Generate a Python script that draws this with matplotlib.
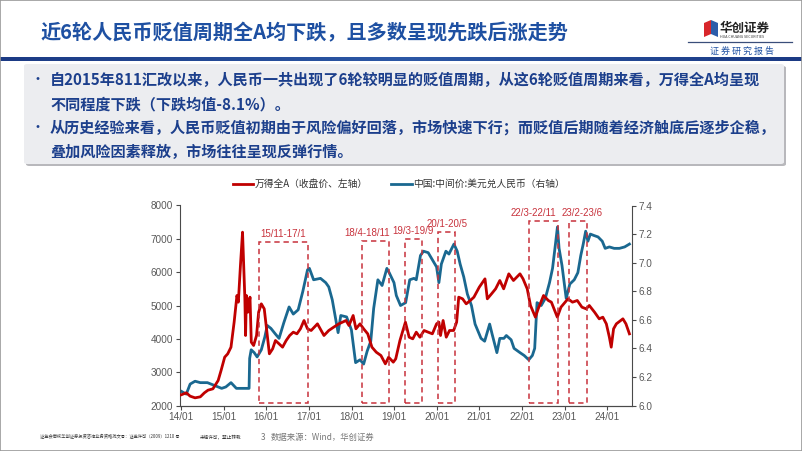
import numpy as np
import pandas as pd
import matplotlib
matplotlib.use("Agg")
import matplotlib.pyplot as plt
import matplotlib.dates as mdates
from matplotlib.patches import Rectangle, FancyBboxPatch, Polygon
from matplotlib.lines import Line2D

plt.rcParams["font.family"] = ["Noto Sans CJK SC", "DejaVu Sans"]

W, H = 802, 451

# ── data ───────────────────────────────────────────────────────────────────
WIND_DATES = [
    "2014-01-02", "2014-02-15", "2014-03-20", "2014-05-01", "2014-06-15", "2014-07-20",
    "2014-08-20", "2014-10-01", "2014-11-15", "2014-12-10", "2015-01-10", "2015-02-05",
    "2015-03-05", "2015-04-01", "2015-04-25", "2015-05-07", "2015-05-25", "2015-06-12",
    "2015-06-20", "2015-07-02", "2015-07-08", "2015-07-15", "2015-07-28", "2015-08-15",
    "2015-08-26", "2015-09-15", "2015-10-10", "2015-10-28", "2015-11-20", "2015-12-15",
    "2016-01-07", "2016-01-28", "2016-02-25", "2016-03-20", "2016-04-20", "2016-05-20",
    "2016-06-20", "2016-07-20", "2016-08-20", "2016-09-20", "2016-10-20", "2016-11-20",
    "2016-12-20", "2017-01-20", "2017-03-15", "2017-05-10", "2017-06-20", "2017-08-01",
    "2017-09-15", "2017-11-15", "2017-12-10", "2018-01-15", "2018-02-08", "2018-03-15",
    "2018-04-15", "2018-05-20", "2018-06-25", "2018-08-01", "2018-09-10", "2018-10-18",
    "2018-11-15", "2018-12-25", "2019-01-15", "2019-02-20", "2019-04-08", "2019-05-10",
    "2019-06-10", "2019-07-10", "2019-08-10", "2019-09-15", "2019-10-20", "2019-11-25",
    "2019-12-31", "2020-01-20", "2020-02-03", "2020-02-25", "2020-03-23", "2020-04-20",
    "2020-05-25", "2020-06-20", "2020-07-08", "2020-08-10", "2020-09-10", "2020-10-15",
    "2020-11-15", "2020-12-31", "2021-02-18", "2021-03-10", "2021-04-15", "2021-05-20",
    "2021-06-25", "2021-07-28", "2021-09-10", "2021-10-20", "2021-12-15", "2022-01-10",
    "2022-02-15", "2022-03-15", "2022-04-26", "2022-05-20", "2022-07-05", "2022-08-15",
    "2022-09-10", "2022-10-31", "2022-12-01", "2023-01-30", "2023-03-10", "2023-04-20",
    "2023-05-30", "2023-07-05", "2023-08-01", "2023-09-15", "2023-10-25", "2023-11-25",
    "2023-12-25", "2024-01-20", "2024-02-05", "2024-02-25", "2024-03-20", "2024-05-15",
    "2024-06-10", "2024-07-10",
]
WIND_VALUES = [
    2320, 2380, 2280, 2230, 2260, 2380,
    2460, 2500, 2750, 3050, 3450, 3550,
    3750, 4500, 5300, 5100, 6200, 7200,
    6400, 5200, 4100, 5300, 4800, 5250,
    3900, 3800, 4100, 4800, 5050, 4900,
    4200, 3550, 3700, 3950, 3850, 3750,
    3950, 4100, 4200, 4150, 4300, 4550,
    4300, 4250, 4450, 4100, 4250, 4350,
    4450, 4550, 4400, 4700, 4300, 4450,
    4300, 4150, 3750, 3600, 3500, 3250,
    3450, 3300, 3400, 3950, 4500, 4050,
    4000, 4200, 4050, 4250, 4200, 4150,
    4450, 4500, 4100, 4550, 4050, 4250,
    4250, 4500, 5250, 5200, 5050, 5150,
    5250, 5550, 5800, 5200, 5350, 5500,
    5750, 5500, 5950, 5750, 5950, 5800,
    5500, 5000, 4650, 4900, 5300, 5150,
    5100, 4650, 4950, 5200, 5100, 5150,
    4950, 4900, 5000, 4800, 4600, 4650,
    4450, 4050, 3750, 4300, 4450, 4600,
    4450, 4150,
]

FX_DATES = [
    "2014-01-02", "2014-02-15", "2014-03-20", "2014-05-01", "2014-06-15", "2014-08-15",
    "2014-10-15", "2014-12-15", "2015-01-20", "2015-03-05", "2015-04-20", "2015-06-20",
    "2015-08-07", "2015-08-12", "2015-08-25", "2015-09-20", "2015-10-15", "2015-11-20",
    "2015-12-20", "2016-01-10", "2016-02-10", "2016-03-20", "2016-04-20", "2016-05-31",
    "2016-07-15", "2016-08-20", "2016-10-01", "2016-11-10", "2016-12-20", "2017-01-05",
    "2017-02-10", "2017-04-10", "2017-05-25", "2017-06-20", "2017-07-20", "2017-09-08",
    "2017-10-01", "2017-11-20", "2017-12-31", "2018-02-05", "2018-03-15", "2018-04-15",
    "2018-05-15", "2018-06-15", "2018-07-10", "2018-08-15", "2018-09-20", "2018-10-31",
    "2018-11-20", "2018-12-31", "2019-01-20", "2019-02-25", "2019-04-10", "2019-05-15",
    "2019-06-20", "2019-07-10", "2019-08-15", "2019-09-10", "2019-10-20", "2019-11-25",
    "2019-12-31", "2020-01-20", "2020-02-10", "2020-03-20", "2020-04-15", "2020-05-28",
    "2020-06-25", "2020-07-20", "2020-08-20", "2020-09-20", "2020-10-25", "2020-11-25",
    "2021-01-15", "2021-02-15", "2021-03-30", "2021-04-20", "2021-05-31", "2021-06-25",
    "2021-07-30", "2021-08-20", "2021-09-30", "2021-10-25", "2021-12-15", "2022-01-20",
    "2022-02-28", "2022-03-31", "2022-04-20", "2022-05-10", "2022-06-15", "2022-07-20",
    "2022-08-25", "2022-09-20", "2022-10-15", "2022-11-01", "2022-11-15", "2022-12-10",
    "2023-01-15", "2023-02-15", "2023-03-25", "2023-04-25", "2023-05-20", "2023-06-10",
    "2023-07-01", "2023-07-20", "2023-08-10", "2023-09-10", "2023-10-15", "2023-11-20",
    "2023-12-15", "2024-01-20", "2024-03-01", "2024-04-15", "2024-05-30", "2024-07-10",
]
FX_VALUES = [
    6.10, 6.08, 6.15, 6.17, 6.16, 6.16,
    6.14, 6.12, 6.13, 6.16, 6.12, 6.12,
    6.12, 6.33, 6.39, 6.37, 6.34, 6.39,
    6.48, 6.56, 6.54, 6.50, 6.47, 6.58,
    6.69, 6.64, 6.67, 6.80, 6.95, 6.96,
    6.88, 6.89, 6.86, 6.83, 6.74, 6.51,
    6.63, 6.62, 6.53, 6.30, 6.32, 6.29,
    6.38, 6.45, 6.68, 6.88, 6.84, 6.96,
    6.93, 6.86, 6.77, 6.70, 6.72, 6.88,
    6.89, 6.88, 7.05, 7.08, 7.07, 7.02,
    6.97, 6.86, 6.99, 7.08, 7.06, 7.13,
    7.08, 6.99, 6.90, 6.78, 6.70, 6.57,
    6.47, 6.45, 6.57, 6.50, 6.37, 6.47,
    6.47, 6.49, 6.46, 6.40, 6.37, 6.35,
    6.32, 6.35, 6.40, 6.72, 6.70, 6.75,
    6.86, 6.96, 7.13, 7.25, 7.10, 6.98,
    6.75, 6.85, 6.88, 6.93, 7.05, 7.13,
    7.22, 7.15, 7.20, 7.19, 7.18, 7.15,
    7.10, 7.11, 7.10, 7.10, 7.11, 7.13,
]

PERIOD_LABELS = ["15/11-17/1", "18/4-18/11", "19/3-19/9", "20/1-20/5", "22/3-22/11", "23/2-23/6"]
PERIOD_START = ["2015-11-01", "2018-04-05", "2019-04-01", "2020-01-15", "2022-03-01", "2023-02-10"]
PERIOD_END = ["2016-12-20", "2018-11-20", "2019-08-25", "2020-06-05", "2022-11-05", "2023-07-10"]
PERIOD_TOP = [6900, 6950, 7000, 7200, 7550, 7550]
PERIOD_BOTTOM = 2080
LABEL_SHIFT_PX = [0, -9, 0, 0, -10, 4]

X_TICKS = [f"{y}-01-01" for y in range(2014, 2025)]
X_TICK_LABELS = [f"{y % 100:02d}/01" for y in range(2014, 2025)]
LEFT_TICKS = [2000, 3000, 4000, 5000, 6000, 7000, 8000]
RIGHT_TICKS = [6.0, 6.2, 6.4, 6.6, 6.8, 7.0, 7.2, 7.4]

TITLE = "近6轮人民币贬值周期全A均下跌，且多数呈现先跌后涨走势"
BULLETS = [
    ["自2015年811汇改以来，人民币一共出现了6轮较明显的贬值周期，从这6轮贬值周期来看，万得全A均呈现",
     "不同程度下跌（下跌均值-8.1%）。"],
    ["从历史经验来看，人民币贬值初期由于风险偏好回落，市场快速下行；而贬值后期随着经济触底后逐步企稳，",
     "叠加风险因素释放，市场往往呈现反弹行情。"],
]

RED = "#C00000"
BLUE = "#1A6890"
BOX_RED = "#C8323C"
NAVY = "#1C3F8C"


def fx(px):
    return px / W


def fy(py):
    return 1 - py / H


fig = plt.figure(figsize=(W / 100, H / 100), dpi=100)
fig.patch.set_facecolor("white")

# ── slide frame / header ──────────────────────────────────────────────────
fig.add_artist(Rectangle((0, 0), 1, 1, transform=fig.transFigure, fill=False,
                         ec="#9A9A9A", lw=1.2))
fig.text(fx(40), fy(33), TITLE, fontsize=14.5, fontweight="bold", color="#1E50A2",
         ha="left", va="center")

bar_ax = fig.add_axes([0, fy(61), 1, 4 / H])
grad = np.linspace(0, 1, 256).reshape(1, -1)
bar_ax.imshow(grad, aspect="auto",
              cmap=matplotlib.colors.LinearSegmentedColormap.from_list("hdr", ["#1B3A84", "#2C58A6", "#1B3A84"]))
bar_ax.axis("off")

# logo
fig.add_artist(Polygon([[fx(704), fy(23)], [fx(711), fy(20)], [fx(711), fy(34)], [fx(704), fy(37)]],
                       closed=True, transform=fig.transFigure, fc="#D8262B", ec="none"))
fig.add_artist(Polygon([[fx(711), fy(20)], [fx(718), fy(23)], [fx(718), fy(37)], [fx(711), fy(34)]],
                       closed=True, transform=fig.transFigure, fc="#2C5DAA", ec="none"))
fig.text(fx(720), fy(28), "华创证券", fontsize=9, fontweight="bold", color="#222222",
         ha="left", va="center")
fig.text(fx(720), fy(37), "HUA CHUANG SECURITIES", fontsize=2.6, color="#333333",
         ha="left", va="center")
fig.add_artist(Line2D([fx(688), fx(792)], [fy(42), fy(42)], transform=fig.transFigure,
                      color="#3A4E7A", lw=0.9))
fig.text(fx(742), fy(51), "证 券 研 究 报 告", fontsize=6.5, color="#1E50A2",
         ha="center", va="center")

# ── text box ──────────────────────────────────────────────────────────────
fig.add_artist(FancyBboxPatch((fx(26), fy(166)), fx(760), (166 - 66) / H,
                              boxstyle="round,pad=0,rounding_size=0.004",
                              transform=fig.transFigure, fc="#B8B8BC", ec="none"))
fig.add_artist(FancyBboxPatch((fx(24), fy(164)), fx(760), (164 - 64) / H,
                              boxstyle="round,pad=0,rounding_size=0.004",
                              transform=fig.transFigure, fc="#ECEDF0", ec="none"))
line_y = [[80, 104], [128, 152]]
for lines, ys in zip(BULLETS, line_y):
    fig.text(fx(37), fy(ys[0]), "•", fontsize=10, color=NAVY, ha="center", va="center")
    for txt, yy in zip(lines, ys):
        fig.text(fx(50), fy(yy), txt, fontsize=10.9, fontweight="bold", color=NAVY,
                 ha="left", va="center")

# ── chart ─────────────────────────────────────────────────────────────────
ax = fig.add_axes([fx(180), fy(405.5), fx(632 - 180), 200 / H])
ax2 = ax.twinx()

wind_d = pd.to_datetime(WIND_DATES)
fx_d = pd.to_datetime(FX_DATES)
l1, = ax.plot(wind_d, WIND_VALUES, color=RED, lw=2.0, zorder=3,
              label="万得全A（收盘价、左轴）")
l2, = ax2.plot(fx_d, FX_VALUES, color=BLUE, lw=2.0, zorder=3,
               label="中国:中间价:美元兑人民币（右轴）")

ax.set_xlim(pd.Timestamp("2013-12-23"), pd.Timestamp("2024-08-01"))
ax.set_ylim(2000, 8000)
ax2.set_ylim(6.0, 7.4)
ax.set_xticks(pd.to_datetime(X_TICKS))
ax.set_xticklabels(X_TICK_LABELS)
ax.set_yticks(LEFT_TICKS)
ax2.set_yticks(RIGHT_TICKS)
ax2.set_yticklabels([f"{v:.1f}" for v in RIGHT_TICKS])

for a in (ax, ax2):
    a.set_facecolor("none")
    a.spines["top"].set_visible(False)
    for s in ("left", "right", "bottom"):
        a.spines[s].set_color("#4A4A4A")
        a.spines[s].set_linewidth(0.8)
    a.tick_params(direction="out", length=3, width=0.8, color="#4A4A4A",
                  labelsize=7.2, labelcolor="#595959", pad=2)
    for lab in a.get_xticklabels() + a.get_yticklabels():
        lab.set_family(["Liberation Sans", "DejaVu Sans"])
ax.set_zorder(ax2.get_zorder() + 1)
ax.spines["right"].set_visible(False)
ax2.spines["left"].set_visible(False)

for lab, s, e, top, shift in zip(PERIOD_LABELS, PERIOD_START, PERIOD_END, PERIOD_TOP, LABEL_SHIFT_PX):
    x0 = mdates.date2num(pd.Timestamp(s))
    x1 = mdates.date2num(pd.Timestamp(e))
    ax.add_patch(Rectangle((x0, PERIOD_BOTTOM), x1 - x0, top - PERIOD_BOTTOM, fill=False,
                           ec=BOX_RED, lw=1.1, ls=(0, (3.5, 2.5)), zorder=4))
    ax.annotate(lab, xy=((x0 + x1) / 2, top), xytext=(shift * 0.72, 2),
                textcoords="offset points", ha="center", va="bottom",
                fontsize=7.0, color=BOX_RED, family=["Liberation Sans", "DejaVu Sans"])

fig.legend(handles=[l1, l2], loc="center", bbox_to_anchor=(fx(399), fy(184)),
           ncol=2, frameon=False, fontsize=7, handlelength=2.1, handletextpad=0.15,
           columnspacing=2.4, labelcolor="#333333")

# ── footer ────────────────────────────────────────────────────────────────
fig.text(fx(40), fy(437), "证监会审核华创证券投资咨询业务资格批文号：证监许可（2009）1210 号",
         fontsize=3.1, color="#333333", ha="left", va="center")
fig.text(fx(200), fy(437), "未经许可，禁止转载", fontsize=3.3, color="#333333",
         ha="left", va="center")
fig.text(fx(261), fy(437), "3", fontsize=6, color="#777777", ha="left", va="center")
fig.text(fx(271), fy(437), "数据来源：Wind，华创证券", fontsize=6, color="#777777",
         ha="left", va="center")

fig.savefig("out.png", dpi=100, facecolor="white")
